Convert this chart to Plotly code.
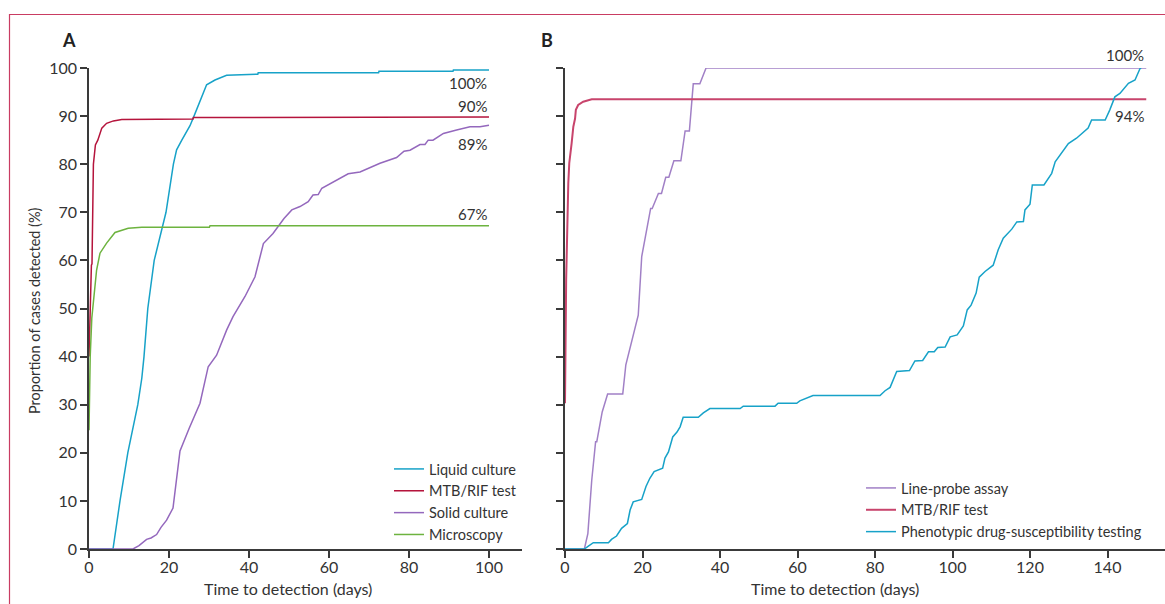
import plotly.graph_objects as go

# ---------------- Panel A data ----------------
liquid_x = [0, 6, 7.75, 9.7, 12.2, 13.2, 13.75, 14.7, 16.3, 19.25, 21.1, 21.9, 23.2, 25.25, 26.25,
            27.75, 29.4, 31.5, 34.4, 42.2, 42.3, 72.4, 72.5, 91.0, 91.1, 100]
liquid_y = [0, 0, 10, 20, 30, 35.5, 40, 50, 60, 70, 80, 83, 85, 88, 90,
            93, 96.5, 97.5, 98.5, 98.7, 99.0, 99.0, 99.3, 99.3, 99.6, 99.6]

mtb_a_x = [0, 0.3, 0.6, 0.75, 0.85, 1.1, 1.6, 2.2, 3.2, 4.4, 6.1, 8.2, 26, 26.1, 100]
mtb_a_y = [40, 52, 59, 59.3, 72, 80, 84, 85, 87.5, 88.5, 89, 89.3, 89.4, 89.7, 89.8]

solid_x = [0, 11, 12.5, 14.4, 15.5, 16.9, 18, 19.4, 21, 22.75, 25, 27.75, 29.8, 31.9, 34.4, 36,
           39, 41.5, 43.6, 46, 48.75, 50.7, 52.75, 54.8, 56, 57.3, 58.2, 60.25, 62.75, 64.8,
           67.75, 70, 72.75, 76.9, 78.75, 80.25, 82.75, 84, 84.8, 86, 88.6, 91.9, 95.25, 97.75, 99.4, 100]
solid_y = [0, 0, 0.7, 2, 2.3, 3, 4.5, 6, 8.5, 20.4, 25, 30.3, 37.9, 40.3, 45.5, 48.3,
           52.5, 56.6, 63.5, 65.6, 68.7, 70.5, 71.2, 72.2, 73.6, 73.7, 75, 75.9, 77, 78,
           78.4, 79.2, 80.2, 81.4, 82.7, 82.9, 84.1, 84.1, 85, 85, 86.4, 87.1, 87.8, 87.8, 88.1, 88.1]

micro_x = [0, 0.3, 0.7, 1.3, 1.9, 2.75, 4.4, 6.5, 8.2, 9.8, 13.2, 30.1, 30.25, 100]
micro_y = [24.7, 40, 48, 52.5, 58, 61.5, 63.6, 65.8, 66.3, 66.7, 66.9, 66.9, 67.2, 67.2]

# ---------------- Panel B data ----------------
lpa_x = [0, 5, 5.9, 6.9, 7.9, 8.2, 9.6, 11, 14.9, 15.7, 18.9, 19.35, 19.8, 22.1, 22.5, 24.1, 24.9,
         26, 26.8, 28.1, 29.9, 31, 32.1, 33.1, 34.8, 36.4, 150]
lpa_y = [0, 0, 3.2, 14.3, 22.3, 22.3, 28.5, 32.2, 32.2, 38.3, 48.6, 53.8, 60.8, 70.8, 70.8, 73.9, 73.9,
         77.3, 77.3, 80.7, 80.7, 86.9, 86.9, 96.7, 96.7, 100, 100]

mtb_b_x = [0, 0.2, 0.3, 0.85, 1.1, 1.7, 2.15, 2.6, 2.8, 3.4, 4.7, 6.9, 150]
mtb_b_y = [30.3, 50, 56, 76, 80.2, 84.3, 87.8, 89.5, 91.3, 92.3, 93, 93.5, 93.5]

dst_x = [0, 5, 5.85, 7.3, 11.2, 12, 13.3, 14.6, 16.1, 16.8, 17.6, 19.8, 20.9, 21.9, 23, 25.2, 25.8,
         26.7, 27.8, 28.9, 29.7, 30.5, 34.4, 35.7, 37.4, 45.2, 46, 54.2, 55, 59.8, 60.6, 62.4, 64,
         81.3, 82.6, 83.9, 85.6, 88.9, 90.3, 92.3, 93.8, 95.3, 96.2, 98.1, 99.4, 101.2, 102.8, 103.8,
         104.8, 106.1, 106.9, 108.4, 110.5, 111.8, 113.1, 115.3, 116.6, 118.3, 118.7, 120, 120.6,
         123.6, 125.6, 126.5, 127.7, 129.9, 132, 135, 135.9, 139.4, 140.6, 141.9, 143.2, 145.4,
         147.1, 148.4, 148.7]
dst_y = [0, 0, 0.5, 1.3, 1.3, 2, 2.7, 4.3, 5.3, 8.1, 9.8, 10.3, 13, 14.7, 16.1, 16.8, 18.9,
         20.2, 23.3, 24.3, 25.4, 27.4, 27.4, 28.3, 29.2, 29.2, 29.7, 29.7, 30.3, 30.3, 30.8, 31.3, 31.9,
         31.9, 32.9, 33.6, 36.9, 37.1, 39.1, 39.2, 41, 41, 41.9, 42, 44.1, 44.5, 46.4, 49.7,
         50.7, 53.2, 56.5, 57.7, 59, 62.2, 64.6, 66.5, 68, 68.1, 70.5, 71.7, 75.7,
         75.7, 78.1, 80.5, 81.9, 84.3, 85.4, 87.5, 89.2, 89.2, 91.3, 94, 94.7, 96.8,
         97.5, 99.9, 100]

y_ticks = [0, 10, 20, 30, 40, 50, 60, 70, 80, 90, 100]
x_ticks_a = [0, 20, 40, 60, 80, 100]
x_ticks_b = [0, 20, 40, 60, 80, 100, 120, 140]

labels_a = ["100%", "90%", "89%", "67%"]
labels_b = ["100%", "94%"]

C_CYAN = "#17a2c8"
C_RED_A = "#b5143c"
C_PURPLE_A = "#9468bd"
C_GREEN = "#6db33f"
C_PURPLE_B = "#a180c6"
C_RED_B = "#c8446c"
TXT = "#333333"
FONT = "Lato"

W, H = 1165, 604
def px(x):
    return x / W
def py(y):
    return (H - y) / H

fig = go.Figure()
lw = 1.5
fig.add_trace(go.Scatter(x=liquid_x, y=liquid_y, mode="lines", name="Liquid culture",
                         line=dict(color=C_CYAN, width=lw), xaxis="x", yaxis="y", legend="legend"))
fig.add_trace(go.Scatter(x=mtb_a_x, y=mtb_a_y, mode="lines", name="MTB/RIF test",
                         line=dict(color=C_RED_A, width=lw), xaxis="x", yaxis="y", legend="legend"))
fig.add_trace(go.Scatter(x=solid_x, y=solid_y, mode="lines", name="Solid culture",
                         line=dict(color=C_PURPLE_A, width=lw), xaxis="x", yaxis="y", legend="legend"))
fig.add_trace(go.Scatter(x=micro_x, y=micro_y, mode="lines", name="Microscopy",
                         line=dict(color=C_GREEN, width=lw), xaxis="x", yaxis="y", legend="legend"))

fig.add_trace(go.Scatter(x=lpa_x, y=lpa_y, mode="lines", name="Line-probe assay",
                         line=dict(color=C_PURPLE_B, width=lw), xaxis="x2", yaxis="y2", legend="legend2"))
fig.add_trace(go.Scatter(x=mtb_b_x, y=mtb_b_y, mode="lines", name="MTB/RIF test",
                         line=dict(color=C_RED_B, width=2), xaxis="x2", yaxis="y2", legend="legend2"))
fig.add_trace(go.Scatter(x=dst_x, y=dst_y, mode="lines", name="Phenotypic drug-susceptibility testing",
                         line=dict(color=C_CYAN, width=lw), xaxis="x2", yaxis="y2", legend="legend2"))

axis_common = dict(showline=True, linecolor="#3a3a3a", linewidth=1.5, ticks="outside", ticklen=7,
                   tickwidth=1.5, tickcolor="#3a3a3a", showgrid=False, zeroline=False, automargin=False,
                   tickfont=dict(family=FONT, size=16, color=TXT))

ydom = [py(549), py(68)]
fig.update_layout(
    width=W, height=H,
    margin=dict(l=0, r=0, t=0, b=0, pad=0, autoexpand=False),
    paper_bgcolor="white", plot_bgcolor="white",
    font=dict(family=FONT, size=14, color=TXT),
    xaxis=dict(domain=[px(89), px(522)], range=[0, 108.25], tickvals=x_ticks_a, anchor="y",
               ticklabelstandoff=-4, **axis_common),
    yaxis=dict(domain=ydom, range=[0, 100], tickvals=y_ticks, anchor="x", **axis_common),
    xaxis2=dict(domain=[px(565), 1.0], range=[0, 154.84], tickvals=x_ticks_b, anchor="y2",
                ticklabelstandoff=-4, **axis_common),
    yaxis2=dict(domain=ydom, range=[0, 100], tickvals=y_ticks, anchor="x2", showticklabels=False,
                **{k: v for k, v in axis_common.items() if k != "tickfont"}),
    legend=dict(x=px(389), y=py(453), xanchor="left", yanchor="top", bgcolor="rgba(0,0,0,0)",
                font=dict(family=FONT, size=14.5, color=TXT), tracegroupgap=0, itemwidth=30),
    legend2=dict(x=px(861), y=py(472), xanchor="left", yanchor="top", bgcolor="rgba(0,0,0,0)",
                 font=dict(family=FONT, size=14.5, color=TXT), tracegroupgap=0, itemwidth=30),
    showlegend=True,
)

def ann(text, x, y, size=14, angle=0, xref="paper", yref="paper", xanchor="center", color=TXT):
    return dict(text=text, x=x, y=y, xref=xref, yref=yref, showarrow=False, textangle=angle,
                xanchor=xanchor, yanchor="middle", font=dict(family=FONT, size=size, color=color))

annotations = [
    ann("<b>A</b>", px(69), py(40), size=18, color="#222222"),
    ann("<b>B</b>", px(547), py(40), size=18, color="#222222"),
    ann("Proportion of cases detected (%)", px(34), py(311), size=14.5, angle=-90),
    ann("Time to detection (days)", px(288), py(588), size=16),
    ann("Time to detection (days)", px(835), py(588), size=16),
]
for t, ypix in zip(labels_a, [83, 106, 144, 214]):
    annotations.append(ann(t, 100, py(ypix), size=15, xref="x", xanchor="right"))
for t, ypix in zip(labels_b, [55, 116]):
    annotations.append(ann(t, 150, py(ypix), size=15, xref="x2", xanchor="right"))
fig.update_layout(annotations=annotations)

fig.add_shape(type="rect", xref="paper", yref="paper", x0=px(9.5), x1=1.2, y0=-0.2, y1=py(14.5),
              line=dict(color="#c93c62", width=1.2), fillcolor="rgba(0,0,0,0)", layer="below")

fig.write_html(
    "out.html",
    config={"displayModeBar": False},
    post_script=("document.documentElement.style.margin='0';document.body.style.margin='0';"
                 "document.documentElement.style.overflow='hidden';document.body.style.overflow='hidden';"),
)
